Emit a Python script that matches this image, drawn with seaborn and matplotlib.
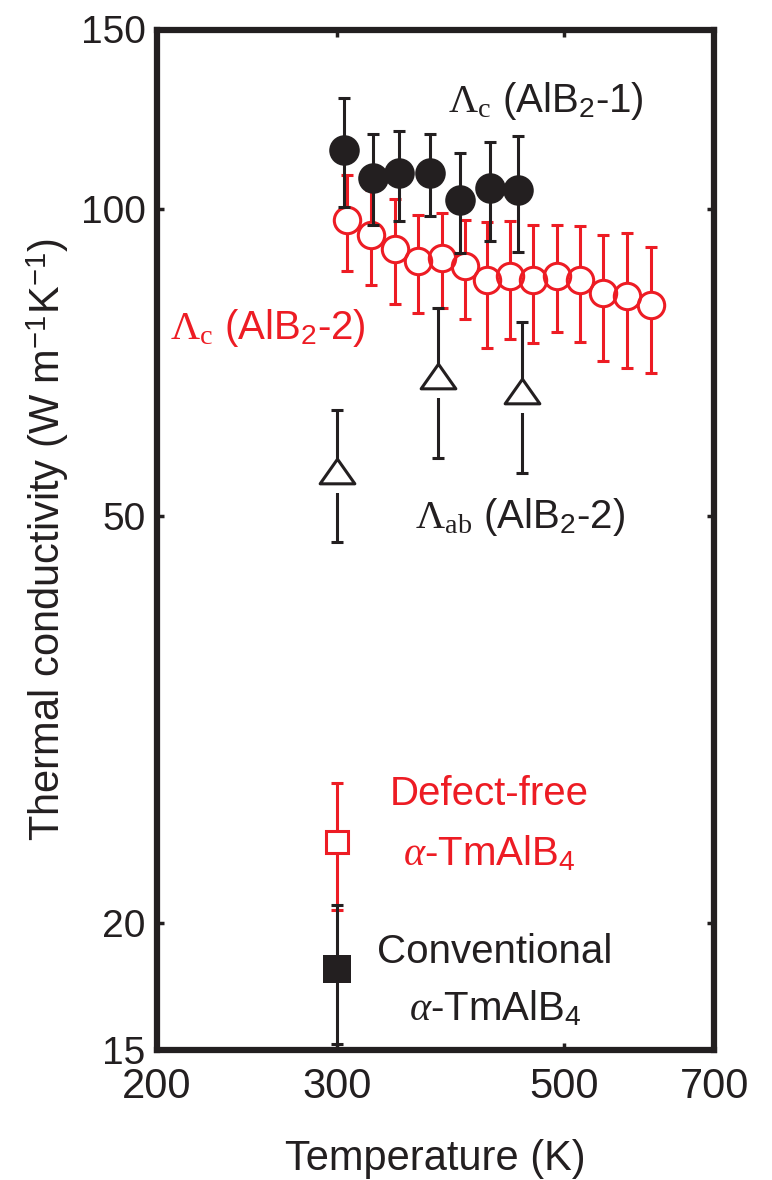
import matplotlib
matplotlib.use("Agg")
import matplotlib.pyplot as plt
from matplotlib.ticker import NullLocator
import pandas as pd
import seaborn as sns

# Lambda_c of AlB2-1 crystal
t_c1 = [305, 325, 345, 370, 395, 423, 450]
k_c1 = [114.4, 107.4, 108.4, 108.5, 102.0, 104.8, 104.4]
e_c1 = [14.0, 11.0, 11.0, 10.0, 11.5, 11.7, 13.6]

# Lambda_c of AlB2-2 crystal
t_c2 = [307, 324, 342, 360, 380, 400, 420, 442, 466, 492, 518, 545, 576, 607]
k_c2 = [97.5, 94.3, 91.5, 88.9, 89.6, 87.9, 85.2, 86.0, 85.2, 86.1, 85.2, 82.7, 82.3, 80.5]
e_c2 = [10.6, 10.1, 10.8, 9.7, 9.6, 9.8, 12.0, 11.3, 11.2, 10.3, 11.0, 11.7, 12.4, 11.4]

# Lambda_ab of AlB2-2 crystal
t_ab = [300, 376, 455]
k_ab = [55.4, 68.6, 66.4]
e_ab = [8.2, 11.5, 11.2]

# alpha-TmAlB4 at room temperature
t_tm = [300]
k_defect_free = [24.0]
e_defect_free = [3.4]
k_conventional = [18.0]
e_conventional = [2.8]

x_ticks = [200, 300, 500, 700]
y_ticks = [15, 20, 50, 100, 150]

RED = "#ed1c24"
BLACK = "#231f20"

sns.set_style("ticks")
plt.rcParams.update({
    "font.family": ["Liberation Sans", "DejaVu Sans"],
    "mathtext.fontset": "custom",
    "mathtext.rm": "Liberation Serif",
    "mathtext.it": "Liberation Serif:italic",
    "mathtext.bf": "Liberation Serif:bold",
    "mathtext.sf": "Liberation Sans",
    "axes.edgecolor": BLACK,
    "text.color": BLACK,
})

fig, ax = plt.subplots(figsize=(7.72, 11.8), dpi=100)
fig.subplots_adjust(left=0.203, right=0.925, top=0.975, bottom=0.110)
ax.set_xscale("log")
ax.set_yscale("log")

bar_kw = dict(fmt="none", elinewidth=2.2, capsize=4.5, capthick=2.2)

# closed triangle marker, wider than tall
tri = [(0, 0.71), (-1, -0.71), (1, -0.71), (0, 0.71)]
# narrow white strip under each triangle that opens a gap in the bar
gap = [(-0.2, 0.0), (0.2, 0.0), (0.2, -1.25), (-0.2, -1.25), (-0.2, 0.0)]
tri_ms = 25

# AlB2-2, c axis: open red circles
ax.errorbar(t_c2, k_c2, yerr=e_c2, ecolor=RED, zorder=2, **bar_kw)
sns.scatterplot(x=t_c2, y=k_c2, ax=ax, marker="o", s=19 ** 2, color="white",
                edgecolor="white", linewidth=0, zorder=3, legend=False)
ax.plot(t_c2, k_c2, ls="none", marker="o", ms=19, mfc="none", mec=RED,
        mew=2.2, zorder=4)

# AlB2-2, ab plane: open black triangles
ax.errorbar(t_ab, k_ab, yerr=e_ab, ecolor=BLACK, zorder=2, **bar_kw)
sns.scatterplot(x=t_ab, y=k_ab, ax=ax, marker=gap, s=(tri_ms * 1.25) ** 2,
                color="white", edgecolor="white", linewidth=0, zorder=3,
                legend=False)
ax.plot(t_ab, k_ab, ls="none", marker=tri, ms=tri_ms, mfc="white", mec=BLACK,
        mew=2.2, zorder=4)

# alpha-TmAlB4 squares
ax.errorbar(t_tm, k_defect_free, yerr=e_defect_free, ecolor=RED, zorder=2, **bar_kw)
ax.plot(t_tm, k_defect_free, ls="none", marker="s", ms=16.5, mfc="white",
        mec=RED, mew=2.2, zorder=4)
ax.errorbar(t_tm, k_conventional, yerr=e_conventional, ecolor=BLACK, zorder=2, **bar_kw)
sns.scatterplot(x=t_tm, y=k_conventional, ax=ax, marker="s", s=20 ** 2,
                color=BLACK, edgecolor=BLACK, linewidth=0, zorder=6, legend=False)

# AlB2-1, c axis: filled black circles
ax.errorbar(t_c1, k_c1, yerr=e_c1, ecolor=BLACK, zorder=5, **bar_kw)
df_c1 = pd.DataFrame({"T": t_c1, "k": k_c1})
sns.scatterplot(data=df_c1, x="T", y="k", ax=ax, marker="o", s=22 ** 2,
                color=BLACK, edgecolor=BLACK, linewidth=0, zorder=6, legend=False)

# axes
ax.set_xlim(200, 700)
ax.set_ylim(15, 150)
ax.set_xticks(x_ticks)
ax.set_xticklabels([str(v) for v in x_ticks])
ax.set_yticks(y_ticks)
ax.set_yticklabels([str(v) for v in y_ticks])
ax.xaxis.set_minor_locator(NullLocator())
ax.yaxis.set_minor_locator(NullLocator())
ax.tick_params(which="both", direction="in", top=True, right=True,
               length=5, width=2.5, color=BLACK, labelcolor=BLACK)
ax.tick_params(axis="x", pad=12, labelsize=30)
ax.tick_params(axis="y", pad=8, labelsize=28)
for sp in ax.spines.values():
    sp.set_linewidth(4.5)
    sp.set_color(BLACK)
    sp.set_visible(True)

ax.set_xlabel("Temperature (K)", fontsize=30, color=BLACK)
ax.set_ylabel(r"Thermal conductivity (W m$^{\mathsf{-1}}$K$^{\mathsf{-1}}$)",
              fontsize=30, color=BLACK)
ax.xaxis.set_label_coords(0.5, -0.087)
ax.yaxis.set_label_coords(-0.153, 0.5)

# annotations
lab = dict(transform=ax.transAxes, fontsize=29, va="baseline")
ax.text(0.522, 0.919, r"$\Lambda_\mathrm{c}$ (AlB$_\mathsf{2}$-1)", color=BLACK,
        ha="left", **lab)
ax.text(0.023, 0.697, r"$\Lambda_\mathrm{c}$ (AlB$_\mathsf{2}$-2)", color=RED,
        ha="left", **lab)
ax.text(0.463, 0.512, r"$\Lambda_\mathrm{ab}$ (AlB$_\mathsf{2}$-2)", color=BLACK,
        ha="left", **lab)
ax.text(0.596, 0.240, "Defect-free", color=RED, ha="center", **lab)
ax.text(0.596, 0.181, r"$\alpha$-TmAlB$_\mathsf{4}$", color=RED, ha="center", **lab)
ax.text(0.607, 0.085, "Conventional", color=BLACK, ha="center", **lab)
ax.text(0.607, 0.029, r"$\alpha$-TmAlB$_\mathsf{4}$", color=BLACK, ha="center", **lab)

fig.savefig("out.png", dpi=100, facecolor="white")
